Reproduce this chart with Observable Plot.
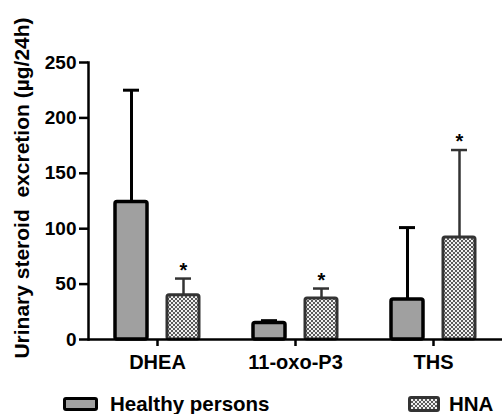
<!DOCTYPE html>
<html>
<head>
<meta charset="utf-8">
<script src="https://cdn.jsdelivr.net/npm/d3@7"></script>
<script src="https://cdn.jsdelivr.net/npm/@observablehq/plot@0.6"></script>
<style>
  html, body { margin: 0; padding: 0; background: #fff; }
  #wrap { position: relative; width: 503px; height: 414px; overflow: hidden; font-family: "Liberation Sans", Arial, sans-serif; font-weight: bold; color: #000; }
  #chart { position: absolute; left: 0; top: 0; }
  #ylabel { position: absolute; left: 22px; top: 187.5px; width: 400px; height: 24px; line-height: 24px; font-size: 21px; text-align: center; white-space: pre; transform: translate(-50%, -50%) rotate(-90deg); }
  .leg { position: absolute; font-size: 20.5px; line-height: 20px; white-space: pre; }
  .sw { position: absolute; box-sizing: border-box; border-radius: 3px; }
</style>
</head>
<body>
<div id="wrap">
  <div id="chart"></div>
  <div id="ylabel"></div>
  <div id="legend"></div>
</div>
<script>
// ---- data ----
const categories = ["DHEA", "11-oxo-P3", "THS"];
const groups = ["Healthy persons", "HNA"];
const healthyMean = [124, 15, 36];
const healthyErr = [101, 2, 65];
const hnaMean = [40, 37, 92];
const hnaErr = [15, 9, 79];
const hnaSignificant = [true, true, true];
const yTicks = [0, 50, 100, 150, 200, 250];
const yLabel = "Urinary steroid  excretion (µg/24h)";

const rows = [];
categories.forEach((c, i) => {
  rows.push({cat: c, group: groups[0], mean: healthyMean[i], err: healthyErr[i], top: healthyMean[i] + healthyErr[i], sig: false});
  rows.push({cat: c, group: groups[1], mean: hnaMean[i], err: hnaErr[i], top: hnaMean[i] + hnaErr[i], sig: hnaSignificant[i]});
});
const healthyRows = rows.filter(d => d.group === groups[0]);
const hnaRows = rows.filter(d => d.group === groups[1]);

const plot = Plot.plot({
  width: 503,
  height: 385,
  marginLeft: 87,
  marginRight: 0,
  marginTop: 62,
  marginBottom: 46,
  style: {fontFamily: "Liberation Sans, Arial, sans-serif", fontWeight: "bold", color: "#000", background: "transparent"},
  fx: {domain: categories, padding: 0, label: null, axis: null},
  x: {domain: groups, paddingInner: 0.377, paddingOuter: 0.5, axis: null},
  y: {domain: [0, 250], axis: null},
  marks: [
    Plot.barY(healthyRows, {fx: "cat", x: "group", y: "mean", fill: "#a0a0a0", stroke: "#000", strokeWidth: 3.5, rx: 2}),
    Plot.barY(hnaRows, {fx: "cat", x: "group", y: "mean", fill: "url(#chk)", stroke: "#333", strokeWidth: 3, rx: 2}),
    Plot.ruleX(healthyRows, {fx: "cat", x: "group", y1: "mean", y2: "top", stroke: "#000", strokeWidth: 3}),
    Plot.tickY(healthyRows, {fx: "cat", x: "group", y: "top", stroke: "#000", strokeWidth: 3, insetLeft: 8, insetRight: 8}),
    Plot.ruleX(hnaRows, {fx: "cat", x: "group", y1: "mean", y2: "top", stroke: "#333", strokeWidth: 2.5}),
    Plot.tickY(hnaRows, {fx: "cat", x: "group", y: "top", stroke: "#333", strokeWidth: 2.5, insetLeft: 8, insetRight: 8}),
    Plot.text(hnaRows.filter(d => d.sig), {fx: "cat", x: "group", y: "top", text: () => "*", fontSize: 20, fontWeight: "bold", fill: "#000", lineAnchor: "bottom", dy: -2}),
    Plot.ruleY([0], {stroke: "#000", strokeWidth: 2.5}),
    Plot.frame({anchor: "left", facetAnchor: "left", stroke: "#000", strokeWidth: 2.5}),
    Plot.axisY({ticks: yTicks, tickSize: 9, tickPadding: 3, fontSize: 19, fontWeight: "bold", label: null, strokeWidth: 2.5, stroke: "#000"}),
    Plot.axisFx({anchor: "bottom", tickSize: 7, tickPadding: 8, fontSize: 20, fontWeight: "bold", label: null, strokeWidth: 2.5, stroke: "#000"})
  ]
});

// checker pattern for HNA bars
const ns = "http://www.w3.org/2000/svg";
const defs = document.createElementNS(ns, "defs");
defs.innerHTML = '<pattern id="chk" width="4" height="4" patternUnits="userSpaceOnUse">' +
  '<rect width="4" height="4" fill="#f0f0f0"/>' +
  '<rect width="2" height="2" fill="#5a5a5a"/>' +
  '<rect x="2" y="2" width="2" height="2" fill="#5a5a5a"/></pattern>';
plot.insertBefore(defs, plot.firstChild);
document.getElementById("chart").appendChild(plot);

document.getElementById("ylabel").textContent = yLabel;

// legend
const legend = document.getElementById("legend");
const swatches = [
  {label: groups[0], box: {left: 63, top: 396.5, width: 34.5, height: 14.5, border: "3px solid #000", background: "#a0a0a0"}, text: {left: 110, top: 394}},
  {label: groups[1], box: {left: 408, top: 396, width: 32, height: 16, border: "3px solid #333", background: "repeating-conic-gradient(#5a5a5a 0 25%, #f0f0f0 0 50%) 0 0 / 4px 4px"}, text: {left: 449, top: 394}}
];
swatches.forEach(s => {
  const b = document.createElement("div");
  b.className = "sw";
  Object.assign(b.style, {left: s.box.left + "px", top: s.box.top + "px", width: s.box.width + "px", height: s.box.height + "px", border: s.box.border, background: s.box.background});
  legend.appendChild(b);
  const t = document.createElement("div");
  t.className = "leg";
  t.style.left = s.text.left + "px";
  t.style.top = s.text.top + "px";
  t.textContent = s.label;
  legend.appendChild(t);
});
</script>
</body>
</html>
